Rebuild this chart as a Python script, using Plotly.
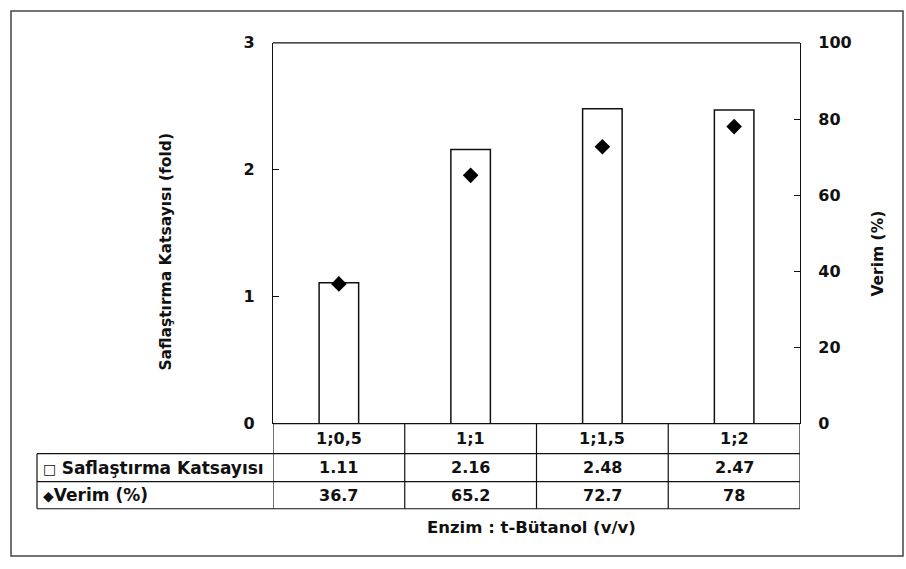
import plotly.graph_objects as go

# Data
categories = ["1;0,5", "1;1", "1;1,5", "1;2"]
saflastirma = [1.11, 2.16, 2.48, 2.47]
verim = [36.7, 65.2, 72.7, 78]
saf_labels = ["1.11", "2.16", "2.48", "2.47"]
verim_labels = ["36.7", "65.2", "72.7", "78"]
left_ticks = [0, 1, 2, 3]
right_ticks = [0, 20, 40, 60, 80, 100]

W, H = 906, 569
FONT = "DejaVu Sans, Verdana, sans-serif"
INK = "#111111"


def px(x):
    return x / W


def py(y):
    return 1 - y / H


# plot area in pixels
PL, PR, PT, PB = 273, 800, 35, 429
pos = list(range(len(categories)))

fig = go.Figure()
fig.add_trace(go.Bar(
    x=pos, y=saflastirma, width=0.3, name="Saflaştırma Katsayısı",
    marker=dict(color="white", line=dict(color=INK, width=1.5)),
    showlegend=False,
))
fig.add_trace(go.Scatter(
    x=pos, y=verim, yaxis="y2", mode="markers", name="Verim (%)",
    marker=dict(symbol="diamond", size=12, color="black"),
    showlegend=False,
))

tickfont = dict(family=FONT, size=16, color=INK, weight="bold")
fig.update_layout(
    width=W, height=H,
    margin=dict(l=0, r=0, t=0, b=0),
    paper_bgcolor="white", plot_bgcolor="white",
    xaxis=dict(domain=[px(PL), px(PR)], range=[-0.5, len(categories) - 0.5],
               showticklabels=False, ticks="", showgrid=False, zeroline=False,
               showline=False),
    yaxis=dict(domain=[py(PB), py(PT)], range=[0, 3], tickvals=left_ticks,
               ticks="inside", ticklen=6, tickcolor=INK, tickwidth=1,
               showgrid=False, zeroline=False, showline=True, linecolor=INK,
               linewidth=1.2, tickfont=tickfont, ticklabelstandoff=14),
    yaxis2=dict(overlaying="y", side="right", range=[0, 100],
                tickvals=right_ticks, ticks="inside", ticklen=6,
                tickcolor=INK, tickwidth=1, showgrid=False, zeroline=False,
                showline=True, linecolor=INK, linewidth=1.2,
                tickfont=tickfont, ticklabelstandoff=14),
)

shapes = []
line = dict(color=INK, width=1.2)
# plot frame (top edge) and outer chart border
shapes.append(dict(type="line", xref="paper", yref="paper",
                   x0=px(PL), x1=px(PR), y0=py(PT), y1=py(PT), line=line))
shapes.append(dict(type="rect", xref="paper", yref="paper",
                   x0=px(11), x1=px(903), y0=py(566), y1=py(2),
                   line=dict(color="#444444", width=1.5)))

# data table grid
ROW_TOP, ROW1, ROW2, ROW3 = 429, 460, 489, 517
TBL_L = 37
shapes.append(dict(type="line", xref="paper", yref="paper",
                   x0=px(PL), x1=px(PR), y0=py(ROW_TOP), y1=py(ROW_TOP), line=line))
for yy in (ROW1, ROW2, ROW3):
    shapes.append(dict(type="line", xref="paper", yref="paper",
                       x0=px(TBL_L), x1=px(PR), y0=py(yy), y1=py(yy), line=line))
shapes.append(dict(type="line", xref="paper", yref="paper",
                   x0=px(TBL_L), x1=px(TBL_L), y0=py(ROW3), y1=py(ROW1), line=line))
for k in range(len(categories) + 1):
    shapes.append(dict(type="line", xref="x", yref="paper",
                       x0=k - 0.5, x1=k - 0.5, y0=py(ROW3), y1=py(ROW_TOP), line=line))
fig.update_layout(shapes=shapes)

cell_font = dict(family=FONT, size=16, color=INK)
ann = []
for i, c in enumerate(categories):
    ann.append(dict(x=i, y=py((ROW_TOP + ROW1) / 2), xref="x", yref="paper",
                    text=f"<b>{c}</b>", showarrow=False, font=cell_font,
                    xanchor="center", yanchor="middle"))
    ann.append(dict(x=i, y=py((ROW1 + ROW2) / 2), xref="x", yref="paper",
                    text=f"<b>{saf_labels[i]}</b>", showarrow=False, font=cell_font,
                    xanchor="center", yanchor="middle"))
    ann.append(dict(x=i, y=py((ROW2 + ROW3) / 2), xref="x", yref="paper",
                    text=f"<b>{verim_labels[i]}</b>", showarrow=False, font=cell_font,
                    xanchor="center", yanchor="middle"))

# row labels with series keys
label_font = dict(family=FONT, size=17, color=INK)
ann.append(dict(x=px(41), y=py((ROW1 + ROW2) / 2), xref="paper", yref="paper",
                text="<span style='font-size:14px'>□</span> <b>Saflaştırma Katsayısı</b>",
                showarrow=False, font=label_font, xanchor="left", yanchor="middle"))
ann.append(dict(x=px(41), y=py((ROW2 + ROW3) / 2), xref="paper", yref="paper",
                text="<span style='font-size:14px'>◆</span><b>Verim (%)</b>",
                showarrow=False, font=label_font, xanchor="left", yanchor="middle"))

# axis titles
title_font = dict(family=FONT, size=16.5, color=INK)
ann.append(dict(x=px(531), y=py(536), xref="paper", yref="paper",
                text="<b>Enzim : t-Bütanol (v/v)</b>", showarrow=False,
                font=title_font, xanchor="center", yanchor="middle"))
ann.append(dict(x=px(166), y=py(251), xref="paper", yref="paper",
                text="<b>Saflaştırma Katsayısı (fold)</b>", showarrow=False,
                font=dict(family=FONT, size=15.5, color=INK), textangle=-90,
                xanchor="center", yanchor="middle"))
ann.append(dict(x=px(878), y=py(253), xref="paper", yref="paper",
                text="<b>Verim (%)</b>", showarrow=False,
                font=dict(family=FONT, size=15.5, color=INK), textangle=-90,
                xanchor="center", yanchor="middle"))
fig.update_layout(annotations=ann)

fig.write_html("out.html")
